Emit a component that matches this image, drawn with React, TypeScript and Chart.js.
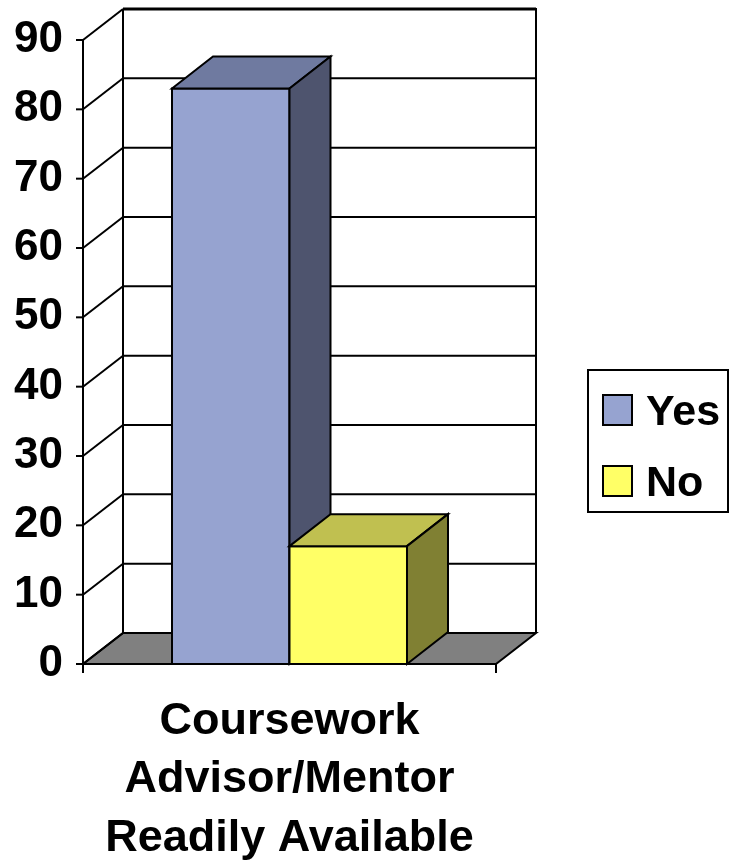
import React, { useEffect, useRef } from "react";
import { Chart, registerables } from "chart.js";

Chart.register(...registerables);

// ---- data ----
const categories = [["Coursework", "Advisor/Mentor", "Readily Available"]];
const seriesNames = ["Yes", "No"];
const yesValues = [83];
const noValues = [17];
const yTickValues = [0, 10, 20, 30, 40, 50, 60, 70, 80, 90];

// ---- styles ----
const FRONT = ["#96A3D0", "#FFFF66"];
const TOP = ["#6F7AA0", "#C0C050"];
const SIDE = ["#4E546E", "#808033"];
const FLOOR = "#808080";
const FONT = "'Liberation Sans', Arial, sans-serif";
const WDX = 40; // wall depth
const WDY = 31;
const BDX = 41; // bar depth
const BDY = 32;

function line(ctx: CanvasRenderingContext2D, x1: number, y1: number, x2: number, y2: number, w = 2) {
  ctx.lineWidth = w;
  ctx.beginPath();
  ctx.moveTo(x1, y1);
  ctx.lineTo(x2, y2);
  ctx.stroke();
}

function poly(ctx: CanvasRenderingContext2D, pts: number[][], fill: string) {
  ctx.beginPath();
  ctx.moveTo(pts[0][0], pts[0][1]);
  for (let i = 1; i < pts.length; i++) ctx.lineTo(pts[i][0], pts[i][1]);
  ctx.closePath();
  ctx.fillStyle = fill;
  ctx.fill();
  ctx.lineWidth = 2;
  ctx.strokeStyle = "#000";
  ctx.lineJoin = "miter";
  ctx.stroke();
}

const threeD = {
  id: "threeD",
  beforeDatasetsDraw(chart: any) {
    const { ctx, chartArea: ca, scales } = chart;
    const ys = scales.y;
    const L = ca.left;
    const R = ca.right;
    const B = ys.getPixelForValue(0);
    const T = ys.getPixelForValue(yTickValues[yTickValues.length - 1]);
    ctx.save();
    ctx.strokeStyle = "#000";
    // floor
    poly(ctx, [[L, B], [R, B], [R + WDX, B - WDY], [L + WDX, B - WDY]], FLOOR);
    // back wall gridlines, left wall diagonals, ticks
    for (const v of yTickValues) {
      const py = ys.getPixelForValue(v);
      const isTop = v === yTickValues[yTickValues.length - 1];
      line(ctx, L + WDX, py - WDY, R + WDX, py - WDY, isTop ? 3 : 2);
      line(ctx, L, py, L + WDX, py - WDY);
      line(ctx, L - 7, py, L, py);
    }
    // back wall vertical edges
    line(ctx, L + WDX, T - WDY, L + WDX, B - WDY);
    line(ctx, R + WDX, T - WDY - 1, R + WDX, B - WDY);
    // front value axis
    line(ctx, L, T, L, B);
    // category axis + ticks
    line(ctx, L, B, R, B);
    line(ctx, L, B, L, B + 9);
    line(ctx, R, B, R, B + 9);
    ctx.restore();
  },
  afterDatasetsDraw(chart: any) {
    const { ctx } = chart;
    ctx.save();
    chart.data.datasets.forEach((_ds: any, i: number) => {
      const meta = chart.getDatasetMeta(i);
      meta.data.forEach((bar: any) => {
        const { x, y, base, width } = bar.getProps(["x", "y", "base", "width"], true);
        const l = x - width / 2;
        const r = x + width / 2;
        poly(ctx, [[l, y], [r, y], [r, base], [l, base]], FRONT[i]);
        poly(ctx, [[l, y], [l + BDX, y - BDY], [r + BDX, y - BDY], [r, y]], TOP[i]);
        poly(ctx, [[r, y], [r + BDX, y - BDY], [r + BDX, base - BDY], [r, base]], SIDE[i]);
      });
    });
    ctx.restore();
  },
  afterDraw(chart: any) {
    const { ctx } = chart;
    ctx.save();
    // legend frame
    ctx.strokeStyle = "#000";
    ctx.lineWidth = 2;
    ctx.strokeRect(588, 370, 140, 142);
    ctx.font = `bold 43px ${FONT}`;
    ctx.textBaseline = "alphabetic";
    ctx.textAlign = "left";
    chart.data.datasets.forEach((ds: any, i: number) => {
      const top = 395 + i * 71;
      ctx.fillStyle = ds.backgroundColor;
      ctx.fillRect(603, top, 29, 30);
      ctx.lineWidth = 2;
      ctx.strokeRect(603, top, 29, 30);
      ctx.fillStyle = "#000";
      ctx.fillText(ds.label, 646, top + 30);
    });
    ctx.restore();
  },
};

export default function App() {
  const ref = useRef<HTMLCanvasElement | null>(null);

  useEffect(() => {
    document.body.style.margin = "0";
    document.body.style.overflow = "hidden";
    const canvas = ref.current;
    if (!canvas) return;
    const chart = new Chart(canvas, {
      type: "bar",
      data: {
        labels: categories as any,
        datasets: [
          { label: seriesNames[0], data: yesValues, backgroundColor: FRONT[0], borderWidth: 0 },
          { label: seriesNames[1], data: noValues, backgroundColor: FRONT[1], borderWidth: 0 },
        ],
      },
      options: {
        responsive: false,
        animation: false,
        events: [],
        layout: { padding: { top: 40, left: 0, right: 238, bottom: 0 } },
        datasets: { bar: { barPercentage: 1, categoryPercentage: 0.569 } } as any,
        plugins: { legend: { display: false }, tooltip: { enabled: false } },
        scales: {
          x: {
            grid: { display: false },
            border: { display: false },
            ticks: {
              color: "#000",
              padding: 21,
              maxRotation: 0,
              autoSkip: false,
              font: { family: FONT, size: 45, weight: "bold", lineHeight: 1.29 },
            },
            afterFit: (s: any) => {
              s.height = 201;
            },
          },
          y: {
            min: 0,
            max: 90,
            grid: { display: false },
            border: { display: false },
            ticks: {
              stepSize: 10,
              color: "#000",
              padding: 12,
              font: { family: FONT, size: 44, weight: "bold" },
            },
            afterFit: (s: any) => {
              s.width = 83;
            },
          },
        },
      },
      plugins: [threeD],
    });
    return () => chart.destroy();
  }, []);

  return (
    <div style={{ width: 734, height: 865, background: "#fff" }}>
      <canvas ref={ref} width={734} height={865} style={{ display: "block" }} />
    </div>
  );
}
